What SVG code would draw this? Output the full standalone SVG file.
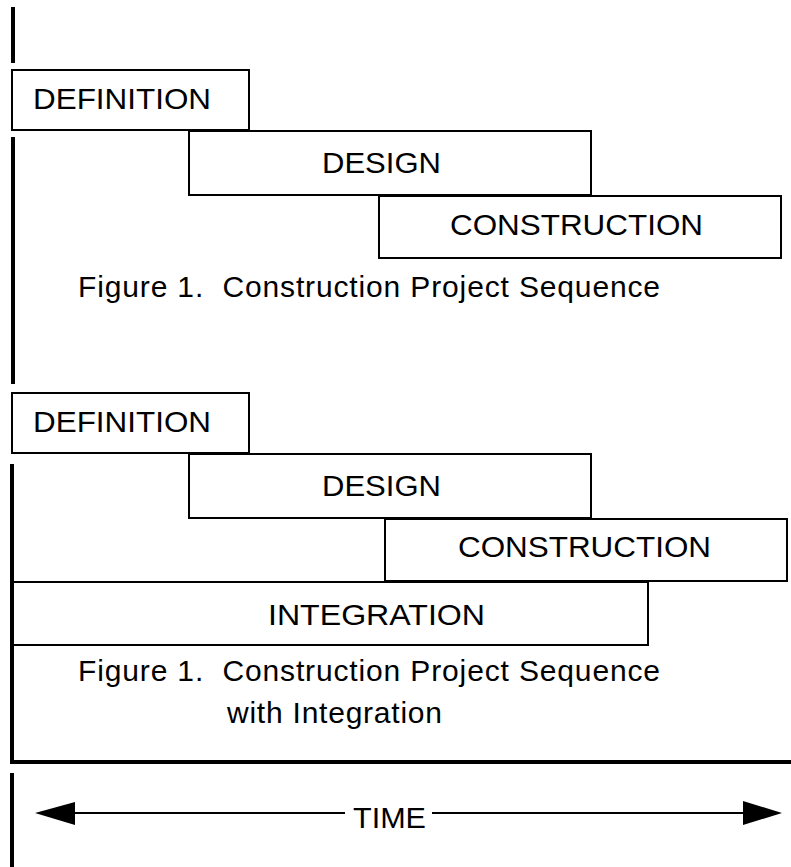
<svg xmlns="http://www.w3.org/2000/svg" width="791" height="867" viewBox="0 0 791 867">
<style>
.box{fill:#fff;stroke:#000;stroke-width:2}
.bar{stroke:#000;stroke-width:4;fill:none}
.lbl{font-family:"Liberation Sans",Arial,sans-serif;font-size:30px;fill:#000}
.cap{font-family:"Liberation Sans",Arial,sans-serif;font-size:30px;fill:#000}
.ln{stroke:#000;stroke-width:2;fill:none}
</style>
<rect width="791" height="867" fill="#fff"/>
<g id="frame">
<line class="bar" x1="13" y1="7" x2="13" y2="63"/>
<line class="bar" x1="13" y1="137" x2="13" y2="384"/>
<line class="bar" x1="12" y1="464" x2="12" y2="764"/>
<line class="bar" x1="10" y1="762" x2="791" y2="762"/>
<line class="bar" x1="12" y1="773" x2="12" y2="867"/>
</g>
<g id="definition1"><rect class="box" x="12" y="70" width="237" height="60"/><text class="lbl" x="33" y="109" textLength="178" lengthAdjust="spacingAndGlyphs">DEFINITION</text></g>
<g id="design1"><rect class="box" x="189" y="131" width="402" height="64"/><text class="lbl" x="322" y="173" textLength="119" lengthAdjust="spacingAndGlyphs">DESIGN</text></g>
<g id="construction1"><rect class="box" x="379" y="196" width="402" height="62"/><text class="lbl" x="450" y="235" textLength="253" lengthAdjust="spacingAndGlyphs">CONSTRUCTION</text></g>
<g id="caption1"><text class="cap" x="78" y="297" xml:space="preserve" textLength="582" lengthAdjust="spacing">Figure 1.  Construction Project Sequence</text></g>
<g id="definition2"><rect class="box" x="12" y="393" width="237" height="60"/><text class="lbl" x="33" y="432" textLength="178" lengthAdjust="spacingAndGlyphs">DEFINITION</text></g>
<g id="design2"><rect class="box" x="189" y="454" width="402" height="64"/><text class="lbl" x="322" y="496" textLength="119" lengthAdjust="spacingAndGlyphs">DESIGN</text></g>
<g id="construction2"><rect class="box" x="385" y="519" width="402" height="62"/><text class="lbl" x="458" y="557" textLength="253" lengthAdjust="spacingAndGlyphs">CONSTRUCTION</text></g>
<g id="integration"><rect class="box" x="13" y="582" width="635" height="63"/><text class="lbl" x="268" y="625" textLength="217" lengthAdjust="spacingAndGlyphs">INTEGRATION</text></g>
<g id="caption2"><text class="cap" x="78" y="681" xml:space="preserve" textLength="582" lengthAdjust="spacing">Figure 1.  Construction Project Sequence</text><text class="cap" x="227" y="723" textLength="215" lengthAdjust="spacing">with Integration</text></g>
<g id="connectors">
<line class="ln" x1="70" y1="813" x2="345" y2="813"/>
<line class="ln" x1="432" y1="813" x2="748" y2="813"/>
<polygon points="35,813 75,802 75,825" fill="#000"/>
<polygon points="782,813 743,801 743,825" fill="#000"/>
</g>
<g id="time"><text class="lbl" x="353" y="828" textLength="73" lengthAdjust="spacingAndGlyphs">TIME</text></g>
</svg>
